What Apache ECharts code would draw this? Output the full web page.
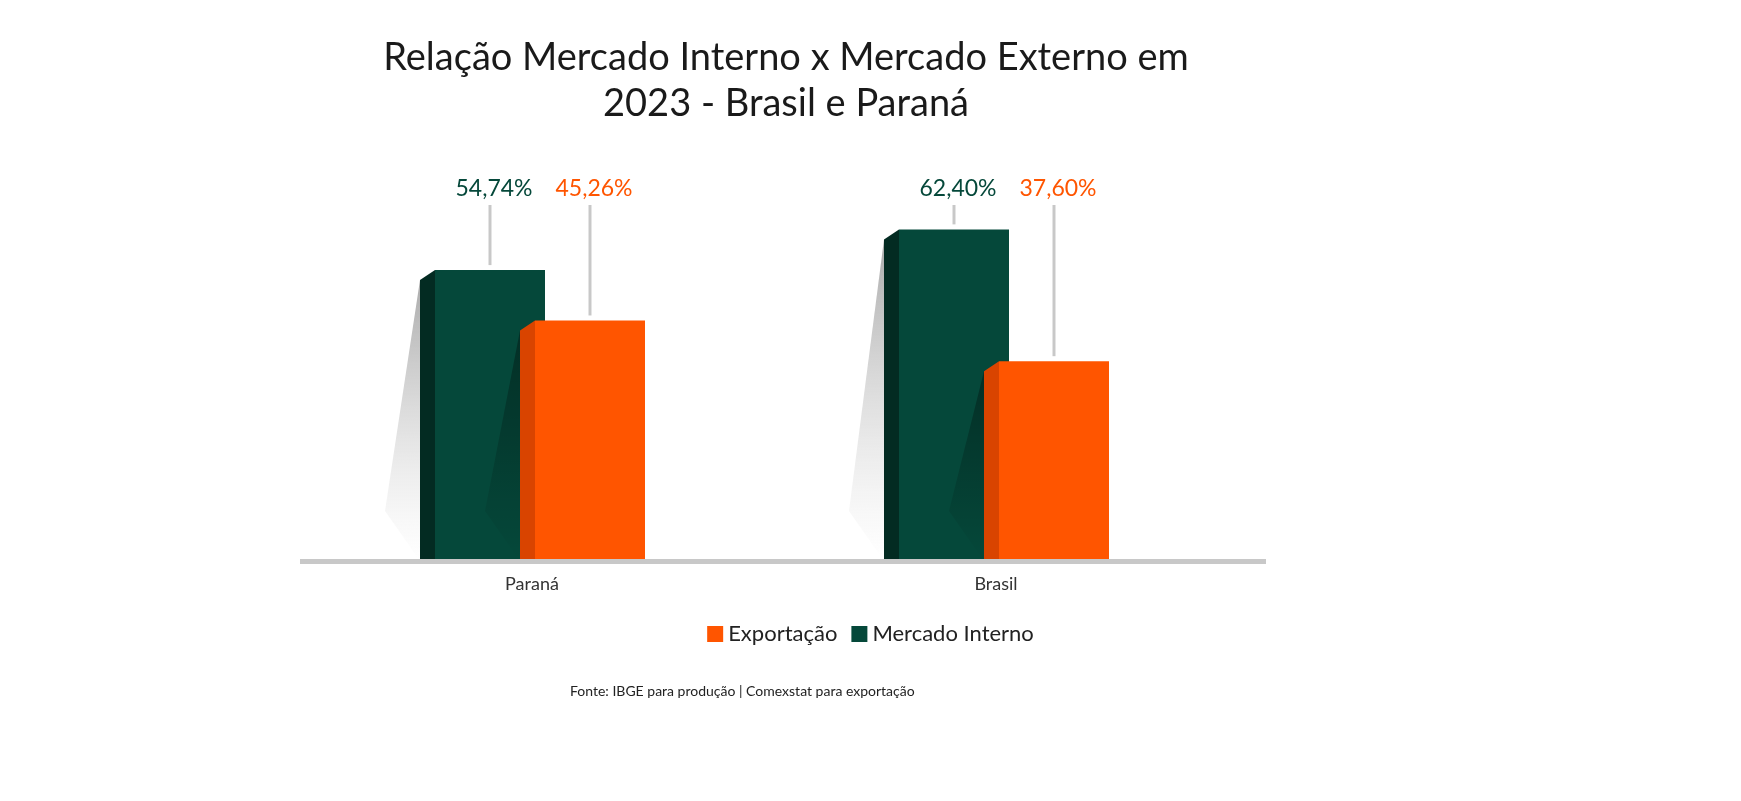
<!DOCTYPE html>
<html><head><meta charset="utf-8">
<script src="https://cdn.jsdelivr.net/npm/echarts@6/dist/echarts.min.js"></script>
<style>html,body{margin:0;padding:0;background:#fff}#c{width:1741px;height:801px}</style>
</head><body><div id="c"></div>
<script>
const categories = ['Paraná', 'Brasil'];
const exportacao = [45.26, 37.60];
const mercadoInterno = [54.74, 62.40];
const titleText = 'Relação Mercado Interno x Mercado Externo em\n2023 - Brasil e Paraná';
const sourceText = 'Fonte: IBGE para produção | Comexstat para exportação';

const chart = echarts.init(document.getElementById('c'));
const FONT = 'Lato, "Open Sans", sans-serif';

function makeRender(front, side, frontOff, lineOff, shadowDark) {
  return function (params, api) {
    const c = api.coord([api.value(0), api.value(1)]);
    const base = api.coord([api.value(0), 0]);
    const labelY = api.coord([api.value(0), 70])[1];
    const fx = c[0] + frontOff, w = 110, sw = 15, top = c[1], by = base[1];
    const sx = fx - sw;
    const txt = api.value(1).toFixed(2).replace('.', ',') + '%';
    return {
      type: 'group',
      children: [
        { type: 'polygon', shape: { points: [[sx, top + 10], [sx, by], [sx - 35, by - 50]] },
          style: { fill: new echarts.graphic.LinearGradient(0, 0, 0, 1, shadowDark ?
            [{ offset: 0, color: 'rgba(0,0,0,0.35)' }, { offset: 1, color: 'rgba(0,0,0,0)' }] :
            [{ offset: 0, color: 'rgba(150,150,150,0.8)' }, { offset: 1, color: 'rgba(200,200,200,0)' }]) } },
        { type: 'polygon', shape: { points: [[sx, top + 10], [fx, top], [fx, by], [sx, by]] }, style: { fill: side } },
        { type: 'rect', shape: { x: fx, y: top, width: w, height: by - top }, style: { fill: front } },
        { type: 'line', shape: { x1: c[0] + lineOff, y1: labelY + 16, x2: c[0] + lineOff, y2: top - 5 },
          style: { stroke: '#c8c8c8', lineWidth: 3 } },
        { type: 'text', style: { text: txt, x: c[0] + lineOff + 4, y: labelY, fill: front,
          font: '23px ' + FONT, textAlign: 'center', textVerticalAlign: 'middle' } }
      ]
    };
  };
}

chart.setOption({
  animation: false,
  title: { text: titleText, left: 781, top: 30, textAlign: 'center',
    textStyle: { fontSize: 38, fontWeight: 'normal', color: '#1a1a1a', fontFamily: FONT, lineHeight: 46 } },
  legend: { data: ['Exportação', 'Mercado Interno'], left: 'center', top: 618, icon: 'rect',
    itemWidth: 16, itemHeight: 16, itemGap: 14,
    textStyle: { fontSize: 22, color: '#222', fontFamily: FONT } },
  graphic: [
    { type: 'rect', shape: { x: 300, y: 559, width: 966, height: 5 }, style: { fill: '#c8c8c8' }, z: 10 },
    { type: 'text', left: 760 - 190, top: 684, style: { text: sourceText, font: '14px ' + FONT, fill: '#222' } }
  ],
  grid: { left: 300, right: 513, top: 189, bottom: 801 - 561 },
  xAxis: { type: 'category', data: categories, axisLine: { show: false }, axisTick: { show: false },
    axisLabel: { fontSize: 18, color: '#333', fontFamily: FONT, margin: 14 } },
  yAxis: { type: 'value', min: 0, max: 70, show: false, splitLine: { show: false } },
  series: [
    { name: 'Mercado Interno', type: 'custom', z: 2, itemStyle: { color: '#05483a' },
      renderItem: makeRender('#05483a', '#032b22', -97, -42, false),
      data: categories.map((c, i) => [i, mercadoInterno[i]]) },
    { name: 'Exportação', type: 'custom', z: 3, itemStyle: { color: '#ff5500' },
      renderItem: makeRender('#ff5500', '#d94400', 3, 58, true),
      data: categories.map((c, i) => [i, exportacao[i]]) }
  ]
});
</script></body></html>
